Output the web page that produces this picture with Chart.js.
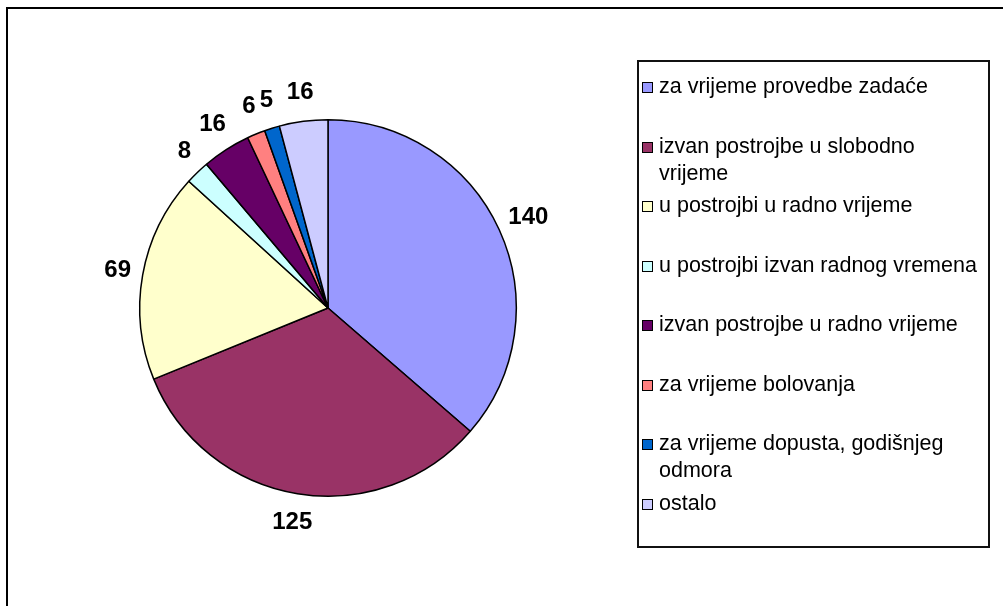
<!DOCTYPE html>
<html>
<head>
<meta charset="utf-8">
<script src="https://cdn.jsdelivr.net/npm/chart.js@4"></script>
<style>
  html, body { margin: 0; padding: 0; background: #fff; }
  body { width: 1003px; height: 606px; position: relative; overflow: hidden; font-family: "Liberation Sans", Arial, sans-serif; }
  #frame { position: absolute; left: 6px; top: 7px; width: 1100px; height: 700px; border: 2px solid #000; }
  #chart-wrap { position: absolute; left: 0; top: 0; width: 1003px; height: 606px; }
  #legend { position: absolute; left: 637px; top: 60px; width: 353px; height: 488px; border: 2px solid #111; box-sizing: border-box; padding-top: 11px; }
  .legend-item { height: 59.5px; display: flex; align-items: flex-start; font-size: 21.5px; line-height: 27px; color: #000; }
  .legend-swatch { width: 9px; height: 9px; border: 1px solid #000; margin: 9px 6px 0 3px; flex: none; }
</style>
</head>
<body>
<div id="frame"></div>
<div id="chart-wrap"><canvas id="pie"></canvas></div>
<div id="legend"></div>
<script>
const categories = [
  "za vrijeme provedbe zadaće",
  ["izvan postrojbe u slobodno", "vrijeme"],
  "u postrojbi u radno vrijeme",
  "u postrojbi izvan radnog vremena",
  "izvan postrojbe u radno vrijeme",
  "za vrijeme bolovanja",
  ["za vrijeme dopusta, godišnjeg", "odmora"],
  "ostalo",
];
const counts = [140, 125, 69, 8, 16, 6, 5, 16];
const sliceColors = ["#9999FF", "#993366", "#FFFFCC", "#CCFFFF", "#660066", "#FF8080", "#0066CC", "#CCCCFF"];

// values drawn just outside each slice, like Excel's "outside end" labels
const outsideLabels = {
  id: "outsideLabels",
  afterDatasetsDraw(chart) {
    const ctx = chart.ctx;
    const meta = chart.getDatasetMeta(0);
    ctx.save();
    ctx.font = "bold 24px 'Liberation Sans', Arial, sans-serif";
    ctx.fillStyle = "#000";
    ctx.textAlign = "center";
    ctx.textBaseline = "middle";
    meta.data.forEach((arc, i) => {
      const p = arc.getProps(["x", "y", "startAngle", "endAngle", "outerRadius"], true);
      const mid = (p.startAngle + p.endAngle) / 2;
      const cos = Math.cos(mid);
      const sin = Math.sin(mid);
      const text = String(counts[i]);
      const w = ctx.measureText(text).width;
      const h = 17;
      const x = p.x + cos * (p.outerRadius + 12 + w / 2);
      const y = p.y + sin * (p.outerRadius + 21 + h / 2);
      ctx.fillText(text, x, y);
    });
    ctx.restore();
  },
};

new Chart(document.getElementById("pie"), {
  type: "pie",
  data: {
    labels: categories,
    datasets: [
      {
        data: counts,
        backgroundColor: sliceColors,
        borderColor: "#000",
        borderWidth: 1.5,
      },
    ],
  },
  options: {
    responsive: true,
    maintainAspectRatio: false,
    animation: false,
    layout: { padding: { left: 139, right: 486, top: 118, bottom: 108 } },
    plugins: {
      legend: { display: false },
      tooltip: { enabled: false },
    },
  },
  plugins: [outsideLabels],
});

const legend = document.getElementById("legend");
legend.innerHTML = categories
  .map((cat, i) => {
    const text = Array.isArray(cat) ? cat.join("<br>") : cat;
    return `<div class="legend-item"><span class="legend-swatch" style="background:${sliceColors[i]}"></span><span>${text}</span></div>`;
  })
  .join("");
</script>
</body>
</html>
